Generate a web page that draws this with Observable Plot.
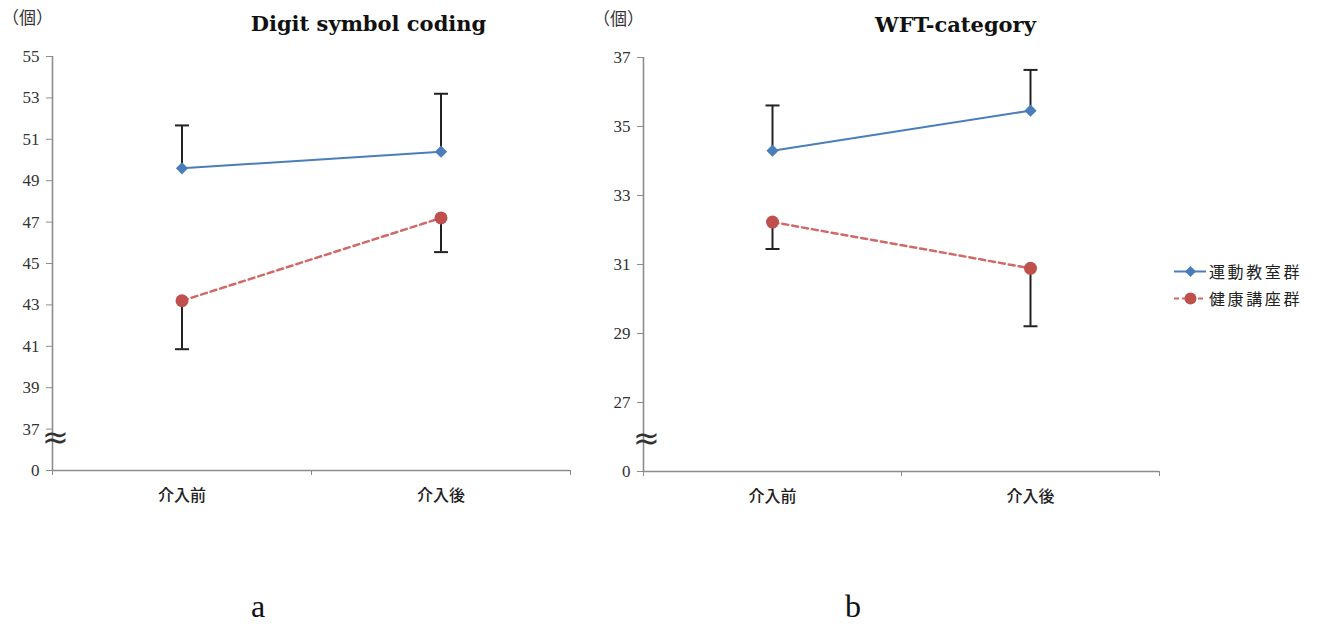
<!DOCTYPE html>
<html>
<head>
<meta charset="utf-8">
<script src="https://cdn.jsdelivr.net/npm/d3@7"></script>
<script src="https://cdn.jsdelivr.net/npm/@observablehq/plot@0.6"></script>
<style>
  html, body { margin: 0; padding: 0; background: #fff; }
  #wrap { position: relative; width: 1322px; height: 626px; overflow: hidden; background: #fff; }
  .panel { position: absolute; top: 0; }
  .cap { position: absolute; top: 588px; font-family: "Liberation Serif", serif; font-size: 32px; color: #111; transform: translateX(-50%); }
  #legend { position: absolute; left: 1174px; top: 257px; font-family: "Noto Sans CJK JP", sans-serif; font-size: 16px; color: #222; }
  #legend .row { display: flex; align-items: center; height: 27px; letter-spacing: 2.6px; }
  #legend svg { margin-right: 3px; }
</style>
</head>
<body>
<div id="wrap"></div>
<script>
// ---- data ----
const categories = ["介入前", "介入後"];
const groupNames = ["運動教室群", "健康講座群"];
const breakLabel = "0";

// Digit symbol coding (means and SD)
const digitExercise = [49.6, 50.4];
const digitExerciseSD = [2.07, 2.8];
const digitLecture = [43.2, 47.2];
const digitLectureSD = [2.34, 1.65];
const digitTicks = [35, 37, 39, 41, 43, 45, 47, 49, 51, 53, 55];

// WFT-category (means and SD)
const wftExercise = [34.3, 35.46];
const wftExerciseSD = [1.31, 1.18];
const wftLecture = [32.23, 30.89];
const wftLectureSD = [0.78, 1.68];
const wftTicks = [25, 27, 29, 31, 33, 35, 37];

const titles = ["Digit symbol coding", "WFT-category"];
const unitLabel = "（個）";
const panelLetters = ["a", "b"];

// ---- style ----
const blue = "#4a7ebb";
const red = "#c0504d";
const redLine = "#d06a68";
const axisGray = "#8c8c8c";

const capSymbol = {
  draw(context, size) {
    const r = Math.sqrt(size / Math.PI);
    context.moveTo(-r, 0);
    context.lineTo(r, 0);
  }
};

function makePanel(cfg) {
  const series = [
    {name: groupNames[0], values: cfg.exercise, err: cfg.exerciseSD, dir: 1},
    {name: groupNames[1], values: cfg.lecture, err: cfg.lectureSD, dir: -1}
  ];
  const rows = [];
  series.forEach(s => s.values.forEach((v, i) => rows.push({
    group: s.name, cat: categories[i], x: i + 0.5, y: v, end: v + s.dir * s.err[i]
  })));
  const g0 = rows.filter(d => d.group === groupNames[0]);
  const g1 = rows.filter(d => d.group === groupNames[1]);
  const base = cfg.ticks[0];
  return Plot.plot({
    width: cfg.width,
    height: 520,
    marginLeft: cfg.ml,
    marginRight: 20,
    marginTop: cfg.mt,
    marginBottom: 520 - cfg.mt - cfg.innerH,
    style: {background: "transparent", overflow: "visible"},
    x: {type: "linear", domain: [0, categories.length], axis: null},
    y: {domain: [base, cfg.ticks[cfg.ticks.length - 1]], axis: null},
    marks: [
      Plot.axisY({ticks: cfg.ticks, tickFormat: d => d === base ? breakLabel : String(d),
        tickSize: 6, tickPadding: 7, fontSize: 17, fontFamily: "Liberation Serif",
        stroke: axisGray, fill: "#333", label: null}),
      Plot.axisX({ticks: d3.range(categories.length + 1), tickSize: 5, tickFormat: () => "",
        stroke: axisGray, label: null}),
      Plot.axisX({ticks: categories.map((c, i) => i + 0.5), tickSize: 0, tickPadding: 19,
        tickFormat: d => categories[Math.floor(d)], fontSize: 16, fontWeight: 500,
        fontFamily: "Noto Sans CJK JP", fill: "#222", label: null}),
      Plot.ruleX([0], {stroke: axisGray, strokeWidth: 1.6}),
      Plot.ruleY([base], {stroke: axisGray, strokeWidth: 1.6}),
      Plot.line(g0, {x: "x", y: "y", stroke: blue, strokeWidth: 2}),
      Plot.line(g1, {x: "x", y: "y", stroke: redLine, strokeWidth: 2.5, strokeDasharray: "6,4"}),
      Plot.ruleX(rows, {x: "x", y1: "y", y2: "end", stroke: "#222", strokeWidth: 2}),
      Plot.dot(rows, {x: "x", y: "end", symbol: capSymbol, r: 7, stroke: "#222", fill: "none", strokeWidth: 2}),
      Plot.dot(g0, {x: "x", y: "y", symbol: "diamond2", r: 5.5, fill: blue}),
      Plot.dot(g1, {x: "x", y: "y", symbol: "circle", r: 6.5, fill: red}),
      Plot.text(["≈"], {frameAnchor: "bottom-left", textAnchor: "middle", lineAnchor: "middle",
        dx: 3, dy: -33, fontSize: 32, fill: "#333", fontFamily: "DejaVu Sans"}),
      Plot.text([unitLabel], {frameAnchor: "top-left", textAnchor: "middle", lineAnchor: "middle",
        dx: -25, dy: -38, fontSize: 17, fontFamily: "Noto Sans CJK JP", fill: "#333"}),
      Plot.text([cfg.title], {frameAnchor: "top", lineAnchor: "middle", dx: cfg.titleDx, dy: -32,
        fontSize: 21, fontWeight: "bold", fontFamily: "DejaVu Serif", fill: "#111"})
    ]
  });
}

const wrap = document.getElementById("wrap");

const pa = makePanel({exercise: digitExercise, exerciseSD: digitExerciseSD,
  lecture: digitLecture, lectureSD: digitLectureSD, ticks: digitTicks,
  title: titles[0], width: 590, ml: 52, mt: 56, innerH: 414, titleDx: 57});
pa.classList.add("panel");
pa.style.left = "0px";
wrap.appendChild(pa);

const pb = makePanel({exercise: wftExercise, exerciseSD: wftExerciseSD,
  lecture: wftLecture, lectureSD: wftLectureSD, ticks: wftTicks,
  title: titles[1], width: 589, ml: 53, mt: 57, innerH: 414, titleDx: 54});
pb.classList.add("panel");
pb.style.left = "590px";
wrap.appendChild(pb);

// legend
const legend = document.createElement("div");
legend.id = "legend";
groupNames.forEach((name, i) => {
  const row = document.createElement("div");
  row.className = "row";
  const sw = Plot.plot({
    width: 32, height: 16, margin: 0,
    x: {domain: [0, 1], axis: null}, y: {domain: [0, 1], axis: null},
    style: {background: "transparent", overflow: "visible"},
    marks: [
      Plot.ruleY([0.5], {stroke: i === 0 ? blue : redLine, strokeWidth: 2,
        strokeDasharray: i === 0 ? null : "5,3"}),
      Plot.dot([0.5], {x: d => d, y: 0.5, symbol: i === 0 ? "diamond2" : "circle",
        r: i === 0 ? 5 : 6, fill: i === 0 ? blue : red})
    ]
  });
  row.appendChild(sw);
  const t = document.createElement("span");
  t.textContent = name;
  row.appendChild(t);
  legend.appendChild(row);
});
wrap.appendChild(legend);

// panel letters
[258, 853].forEach((x, i) => {
  const c = document.createElement("div");
  c.className = "cap";
  c.style.left = x + "px";
  c.textContent = panelLetters[i];
  wrap.appendChild(c);
});
</script>
</body>
</html>
